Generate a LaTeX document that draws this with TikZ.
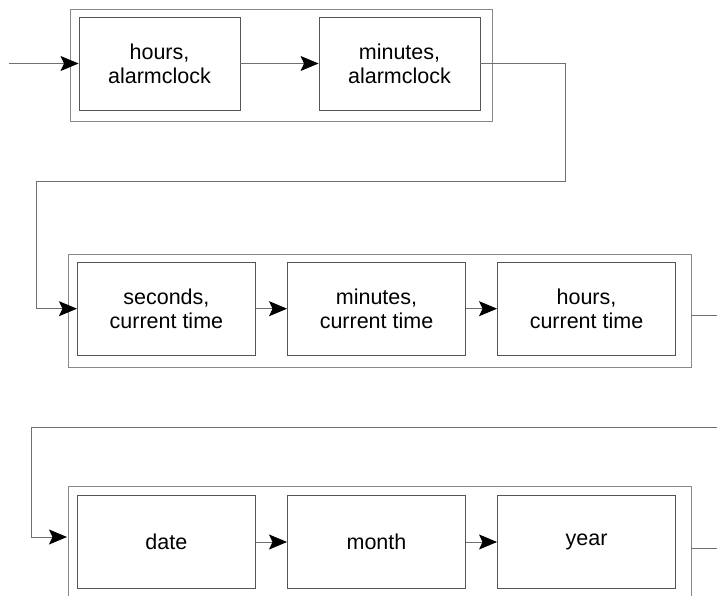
\documentclass[tikz,border=0pt]{standalone}
\usepackage{fontspec}
\setmainfont{Liberation Sans}
\usetikzlibrary{arrows.meta}
\definecolor{boxgray}{HTML}{555555}
\definecolor{outergray}{HTML}{888888}
\definecolor{linegray}{HTML}{707070}
\tikzset{
  inbox/.style={draw=boxgray, line width=0.9pt, minimum width=178pt, minimum height=92.5pt, inner sep=0pt, align=center, font=\fontsize{21.5}{24}\selectfont},
  topbox/.style={inbox, minimum width=161pt, minimum height=93pt},
  outerbox/.style={draw=outergray, line width=1pt, inner sep=0pt},
  conn/.style={draw=linegray, line width=0.9pt},
  arr/.style={conn, -{Stealth[length=18pt,width=15pt,inset=3.5pt,black]}}
}
\begin{document}
\begin{tikzpicture}[x=1pt,y=-1pt]
\useasboundingbox (0,0) rectangle (717,596);
\clip (0,0) rectangle (717,596);
% top group
\node[outerbox, minimum width=422pt, minimum height=112pt] (g1) at (281,66) {};
\node[topbox] (b1) at (159.5,63.5) {hours,\\alarmclock};
\node[topbox] (b2) at (399.5,63.5) {minutes,\\alarmclock};
% middle group
\node[outerbox, minimum width=623pt, minimum height=113pt] (g2) at (379.5,310.5) {};
\node[inbox] (sec) at (166.4,308.7) {seconds,\\current time};
\node[inbox] (min) at (376.5,308.7) {minutes,\\current time};
\node[inbox] (hrs) at (586.5,308.7) {hours,\\current time};
% bottom group
\node[outerbox, minimum width=623pt, minimum height=113pt] (g3) at (379.5,543.2) {};
\node[inbox] (date) at (166.4,542) {date};
\node[inbox] (month) at (376.5,542) {month};
\node[inbox] (year) at (586.5,542) {year};
% coordinates
\coordinate (in) at (9,63.5);
\coordinate (r1) at (565.7,63.5);
\coordinate (r2) at (565.7,181);
\coordinate (l1) at (36,181);
\coordinate (l2) at (36,308.7);
\coordinate (x2a) at (691,315);
\coordinate (x2b) at (717,315);
\coordinate (r3) at (717,427);
\coordinate (l3) at (31,427);
\coordinate (l4) at (31,537);
\coordinate (g3in) at (67,537);
\coordinate (x3a) at (691,548);
\coordinate (x3b) at (717,548);
% connectors
\draw[arr] (in) -- (b1.west);
\draw[arr] (b1.east) -- (b2.west);
\draw[conn] (b2.east) -- (r1) -- (r2) -- (l1) -- (l2);
\draw[arr] (l2) -- (sec.west);
\draw[arr] (sec.east) -- (min.west);
\draw[arr] (min.east) -- (hrs.west);
\draw[conn] (x2a) -- (x2b);
\draw[conn] (r3) -- (l3) -- (l4);
\draw[arr] (l4) -- (g3in);
\draw[arr] (date.east) -- (month.west);
\draw[arr] (month.east) -- (year.west);
\draw[conn] (x3a) -- (x3b);
\end{tikzpicture}
\end{document}
